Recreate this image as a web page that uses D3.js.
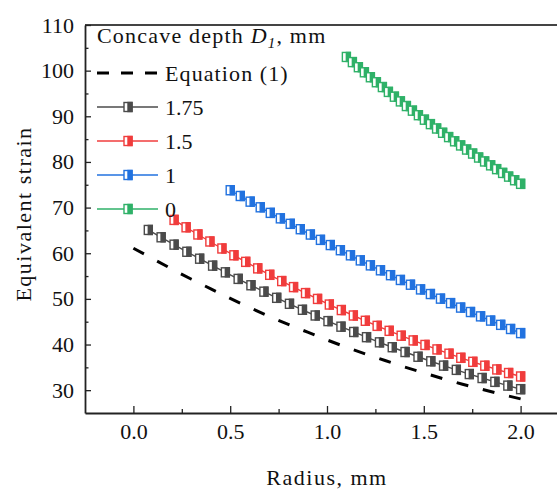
<!DOCTYPE html>
<html>
<head>
<meta charset="utf-8">
<script src="https://cdn.jsdelivr.net/npm/d3@7"></script>
<style>
  body { margin: 0; background: #fff; }
  svg text { font-family: "Liberation Serif", "Times New Roman", serif; fill: #111; }
</style>
</head>
<body>
<script>
// Data
var eqRadius = [0.0,0.1,0.2,0.3,0.4,0.5,0.6,0.7,0.8,0.9,1.0,1.1,1.2,1.3,1.4,1.5,1.6,1.7,1.8,1.9,2.0];
var eqStrain = [61.1,58.8,56.5,54.3,52.2,50.1,48.1,46.2,44.4,42.7,41.0,39.4,37.9,36.5,35.1,33.8,32.5,31.3,30.2,29.1,28.1];

var r175 = [0.077,0.143,0.210,0.276,0.342,0.409,0.475,0.541,0.607,0.674,0.740,0.806,0.873,0.939,1.005,
            1.072,1.138,1.204,1.271,1.337,1.403,1.470,1.536,1.602,1.668,1.735,1.801,1.867,1.934,2.000];
var s175 = [65.10,63.49,61.88,60.32,58.80,57.28,55.82,54.38,52.98,51.58,50.23,48.92,47.61,46.36,45.13,
            43.91,42.75,41.61,40.48,39.41,38.36,37.32,36.33,35.38,34.45,33.53,32.66,31.82,31.00,30.22];

var r15 = [0.210,0.272,0.333,0.395,0.457,0.519,0.580,0.642,0.704,0.766,0.827,0.889,0.951,1.012,1.074,
           1.136,1.198,1.259,1.321,1.383,1.445,1.506,1.568,1.630,1.691,1.753,1.815,1.877,1.938,2.000];
var s15 = [67.30,65.68,64.11,62.57,61.04,59.55,58.11,56.68,55.27,53.90,52.58,51.27,49.99,48.76,47.55,
           46.36,45.20,44.09,43.00,41.93,40.90,39.91,38.93,37.99,37.09,36.21,35.36,34.54,33.76,33.00];

var r1 = [0.500,0.552,0.603,0.655,0.707,0.759,0.810,0.862,0.914,0.966,1.017,1.069,1.121,1.172,1.224,
          1.276,1.328,1.379,1.431,1.483,1.534,1.586,1.638,1.690,1.741,1.793,1.845,1.897,1.948,2.000];
var s1 = [73.80,72.54,71.30,70.06,68.84,67.64,66.44,65.26,64.09,62.93,61.79,60.66,59.54,58.43,57.34,
          56.26,55.19,54.14,53.10,52.07,51.06,50.05,49.07,48.09,47.12,46.17,45.24,44.31,43.40,42.50];

var r0 = [1.100,1.131,1.162,1.193,1.224,1.255,1.286,1.317,1.348,1.379,1.410,1.441,1.472,1.503,1.534,
          1.566,1.597,1.628,1.659,1.690,1.721,1.752,1.783,1.814,1.845,1.876,1.907,1.938,1.969,2.000];
var s0 = [103.00,101.87,100.75,99.64,98.55,97.46,96.40,95.34,94.29,93.26,92.24,91.23,90.24,89.25,88.28,
          87.32,86.38,85.44,84.52,83.61,82.71,81.83,80.96,80.10,79.25,78.42,77.59,76.78,75.99,75.20];

var seriesNames = ["1.75", "1.5", "1", "0"];
var seriesColors = ["#4b4b4b", "#f03c3c", "#2272df", "#2fb168"];
var xTicks = [0, 0.5, 1.0, 1.5, 2.0];
var yTicks = [30, 40, 50, 60, 70, 80, 90, 100, 110];

var series = [
  {name: seriesNames[0], color: seriesColors[0], pts: d3.zip(r175, s175)},
  {name: seriesNames[1], color: seriesColors[1], pts: d3.zip(r15, s15)},
  {name: seriesNames[2], color: seriesColors[2], pts: d3.zip(r1, s1)},
  {name: seriesNames[3], color: seriesColors[3], pts: d3.zip(r0, s0)}
];

//Define SVG
var width = 557, height = 489;
var svg = d3.select("body").append("svg")
  .attr("width", width)
  .attr("height", height);

var x = d3.scaleLinear().domain([-0.25, 2.25]).range([85, 569]);
var y = d3.scaleLinear().domain([25, 110]).range([413, 25]);

var axisColor = "#222";
var serif = "Liberation Serif";

// frame: top line (right side falls outside the picture)
svg.append("line").attr("x1", x(-0.25)).attr("x2", x(2.25)).attr("y1", y(110)).attr("y2", y(110))
  .attr("stroke", "#444").attr("stroke-width", 2);

// x axis, ticks pointing inward
var xAxis = svg.append("g").attr("transform", "translate(0," + y(25) + ")")
  .attr("font-family", serif)
  .call(d3.axisBottom(x).tickValues(xTicks).tickSizeInner(-7).tickSizeOuter(0)
    .tickFormat(d3.format(".1f")).tickPadding(10));
xAxis.selectAll(".tick line").attr("stroke", axisColor).attr("stroke-width", 1.3);
xAxis.select(".domain").attr("stroke", axisColor).attr("stroke-width", 1.8);
xAxis.selectAll("text").style("font-size", "22px").style("font-family", serif);
svg.append("g").attr("transform", "translate(0," + y(25) + ")")
  .call(d3.axisBottom(x).tickValues([0.25, 0.75, 1.25, 1.75]).tickSizeInner(-4).tickSizeOuter(0).tickFormat(""))
  .call(function(g) { g.select(".domain").remove(); g.selectAll("line").attr("stroke", axisColor).attr("stroke-width", 1.3); });

// y axis
var yAxis = svg.append("g").attr("transform", "translate(" + x(-0.25) + ",0)")
  .attr("font-family", serif)
  .call(d3.axisLeft(y).tickValues(yTicks).tickSizeInner(-6).tickSizeOuter(0).tickPadding(11));
yAxis.selectAll(".tick line").attr("stroke", axisColor).attr("stroke-width", 1.3);
yAxis.select(".domain").attr("stroke", axisColor).attr("stroke-width", 1.8);
yAxis.selectAll("text").style("font-size", "22px").style("font-family", serif);
svg.append("g").attr("transform", "translate(" + x(-0.25) + ",0)")
  .call(d3.axisLeft(y).tickValues([35, 45, 55, 65, 75, 85, 95, 105]).tickSizeInner(-3.5).tickSizeOuter(0).tickFormat(""))
  .call(function(g) { g.select(".domain").remove(); g.selectAll("line").attr("stroke", axisColor).attr("stroke-width", 1.3); });

// axis titles (letter-spacing makes the serif closer to the wider original face)
svg.append("text")
  .attr("x", 327).attr("y", 485)
  .attr("text-anchor", "middle")
  .style("font-size", "22px").style("letter-spacing", "1.5px")
  .text("Radius, mm");
svg.append("text")
  .attr("transform", "translate(31,214) rotate(-90)")
  .attr("text-anchor", "middle")
  .style("font-size", "22px").style("letter-spacing", "1.5px")
  .text("Equivalent strain");

// Equation (1) dashed line
var line = d3.line().x(function(d) { return x(d[0]); }).y(function(d) { return y(d[1]); });
svg.append("path")
  .datum(d3.zip(eqRadius, eqStrain))
  .attr("d", line)
  .attr("fill", "none")
  .attr("stroke", "#000")
  .attr("stroke-width", 3)
  .attr("stroke-dasharray", "12,15");

// half-filled square marker
var mw = 8, mh = 9;
function marker(g, cx, cy, color) {
  g.append("rect").attr("x", cx - mw / 2).attr("y", cy - mh / 2).attr("width", mw).attr("height", mh)
    .attr("fill", "#fff").attr("stroke", color).attr("stroke-width", 1.4);
  g.append("rect").attr("x", cx).attr("y", cy - mh / 2).attr("width", mw / 2).attr("height", mh)
    .attr("fill", color).attr("stroke", color).attr("stroke-width", 1.4);
}

series.forEach(function(s) {
  var g = svg.append("g");
  g.append("path").datum(s.pts).attr("d", line)
    .attr("fill", "none").attr("stroke", s.color).attr("stroke-width", 1.4);
  s.pts.forEach(function(p) { marker(g, x(p[0]), y(p[1]), s.color); });
});

// legend
var lg = svg.append("g");
var title = lg.append("text").attr("x", 97).attr("y", 43).style("font-size", "22px").style("letter-spacing", "1.2px");
title.append("tspan").text("Concave depth ");
title.append("tspan").style("font-style", "italic").text("D");
title.append("tspan").style("font-style", "italic").style("font-size", "15px").attr("dy", 5).text("1");
title.append("tspan").attr("dy", -5).text(", mm");

var rowY = [73, 107, 141, 175, 209];
lg.append("line").attr("x1", 97).attr("x2", 158).attr("y1", rowY[0]).attr("y2", rowY[0])
  .attr("stroke", "#000").attr("stroke-width", 3).attr("stroke-dasharray", "12,12");
lg.append("text").attr("x", 165).attr("y", rowY[0]).attr("dy", "0.35em")
  .style("font-size", "22px").style("letter-spacing", "1.1px").text("Equation (1)");
series.forEach(function(s, i) {
  var ly = rowY[i + 1];
  lg.append("line").attr("x1", 97).attr("x2", 158).attr("y1", ly).attr("y2", ly)
    .attr("stroke", s.color).attr("stroke-width", 1.6);
  marker(lg, 128, ly, s.color);
  lg.append("text").attr("x", 165).attr("y", ly).attr("dy", "0.35em").style("font-size", "22px").text(s.name);
});
</script>
</body>
</html>
